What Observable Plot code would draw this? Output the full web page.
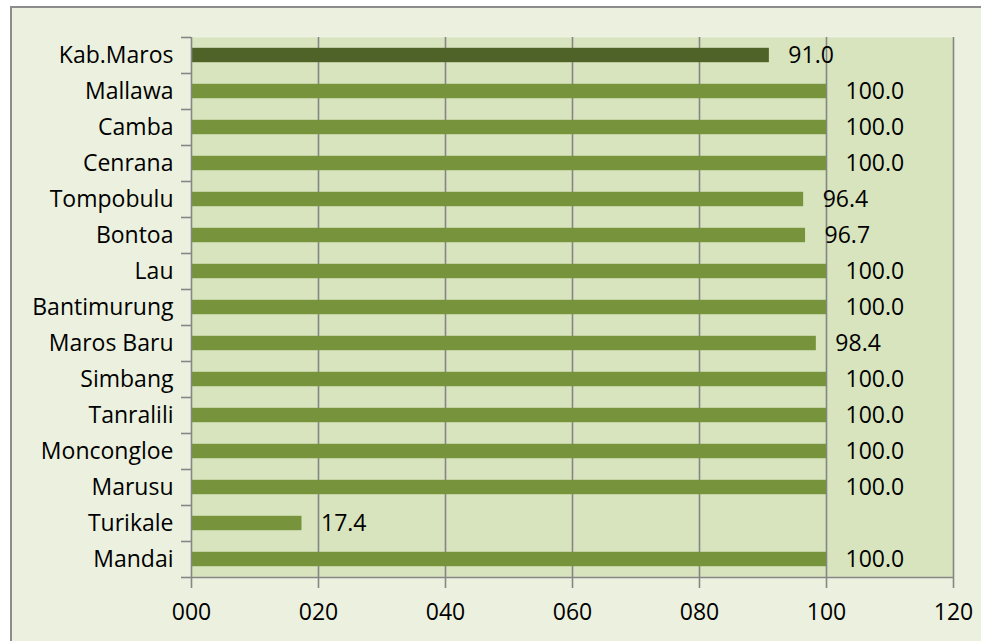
<!DOCTYPE html>
<html>
<head>
<meta charset="utf-8">
<script src="https://cdn.jsdelivr.net/npm/d3@7"></script>
<script src="https://cdn.jsdelivr.net/npm/@observablehq/plot@0.6"></script>
<style>
  html, body { margin: 0; padding: 0; background: #ffffff; overflow: hidden; }
  #frame {
    position: absolute; left: 10px; top: 6px;
    width: 990px; height: 650px;
    background: #EBF1DE;
    border-left: 2px solid #8c8c8c; border-top: 2px solid #8c8c8c;
  }
</style>
</head>
<body>
<div id="frame"></div>
<script>
const categories = ["Kab.Maros","Mallawa","Camba","Cenrana","Tompobulu","Bontoa","Lau","Bantimurung","Maros Baru","Simbang","Tanralili","Moncongloe","Marusu","Turikale","Mandai"];
const values = [91.0, 100.0, 100.0, 100.0, 96.4, 96.7, 100.0, 100.0, 98.4, 100.0, 100.0, 100.0, 100.0, 17.4, 100.0];
const xTicks = [0, 20, 40, 60, 80, 100, 120];
const highlight = "Kab.Maros";

const data = categories.map((name, i) => ({name, value: values[i], i}));
const boundaries = categories.map((_, i) => i - 0.5).concat([categories.length - 0.5]);
const gridColor = "#868686";
const fs = 23;

const chart = Plot.plot({
  width: 969,
  height: 633,
  marginLeft: 179,
  marginRight: 28,
  marginTop: 29,
  marginBottom: 64,
  style: {fontFamily: "'Open Sans', sans-serif", fontSize: fs + "px", color: "#000", background: "transparent", overflow: "visible"},
  x: {domain: [0, 120], axis: null},
  y: {domain: [-0.5, categories.length - 0.5], reverse: true, axis: null},
  marks: [
    Plot.frame({fill: "#D7E4BD", stroke: "none"}),
    Plot.ruleX(xTicks.slice(1), {stroke: gridColor, strokeWidth: 1.6}),
    Plot.rect(data.filter(d => d.name !== highlight), {x1: 0, x2: "value", y1: d => d.i - 0.2, y2: d => d.i + 0.2, fill: "#77933C"}),
    Plot.rect(data.filter(d => d.name === highlight), {x1: 0, x2: "value", y1: d => d.i - 0.2, y2: d => d.i + 0.2, fill: "#4F6228"}),
    Plot.text(data, {x: "value", y: "i", text: d => d.value.toFixed(1), dx: 19, textAnchor: "start", fontSize: fs, fill: "#000"}),
    Plot.ruleX([0], {stroke: gridColor, strokeWidth: 1.6}),
    Plot.ruleY([categories.length - 0.5], {stroke: gridColor, strokeWidth: 1.6}),
    Plot.axisY(boundaries, {tickSize: 10, tickFormat: () => "", stroke: gridColor, strokeWidth: 1.6, label: null}),
    Plot.axisY(categories.map((_, i) => i), {tickSize: 0, tickPadding: 18, tickFormat: i => categories[i], fontSize: fs, fill: "#000", label: null}),
    Plot.axisX(xTicks, {tickSize: 11, tickPadding: 15, tickFormat: d3.format("03d"), fontSize: fs, stroke: gridColor, strokeWidth: 1.6, fill: "#000", label: null})
  ]
});
document.getElementById("frame").appendChild(chart);
</script>
</body>
</html>
